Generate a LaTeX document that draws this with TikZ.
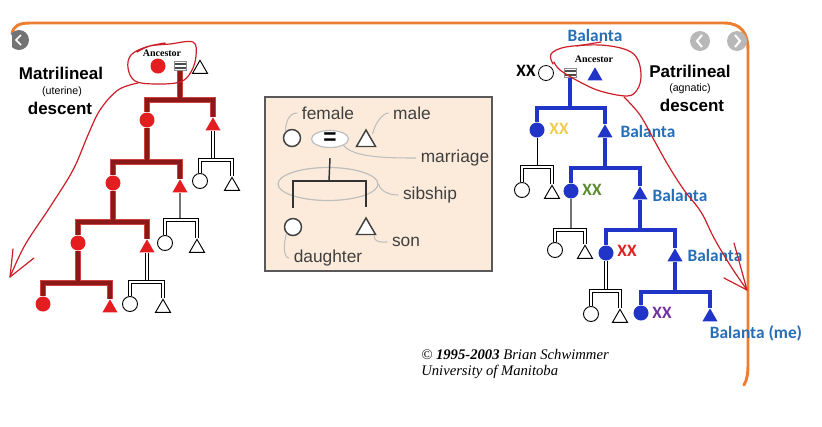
\documentclass[tikz,border=0pt]{standalone}
\usepackage{fontspec}
\setmainfont{Liberation Sans}
\newfontfamily\calibfont{Carlito}
\newfontfamily\timesfont{Liberation Serif}
\usetikzlibrary{shapes.geometric}

\definecolor{matred}{RGB}{228,30,32}
\definecolor{redcore}{RGB}{140,24,24}
\definecolor{redrim}{RGB}{205,65,65}
\definecolor{patblue}{RGB}{32,52,200}
\definecolor{balblue}{RGB}{38,110,182}
\definecolor{frameorange}{RGB}{237,125,49}
\definecolor{handred}{RGB}{205,30,40}
\definecolor{legfill}{RGB}{252,235,218}
\definecolor{leggrey}{RGB}{190,190,190}
\definecolor{xxyellow}{RGB}{240,205,80}
\definecolor{xxgreen}{RGB}{90,140,45}
\definecolor{xxred}{RGB}{225,30,30}
\definecolor{xxpurple}{RGB}{112,48,160}

\tikzset{
  fem/.style={circle, inner sep=0pt, minimum size=11.25pt},
  mal/.style={regular polygon, regular polygon sides=3, inner sep=0pt, minimum size=13pt},
  matf/.style={fem, fill=matred},
  matm/.style={mal, fill=matred},
  patf/.style={fem, fill=patblue},
  patm/.style={mal, fill=patblue},
  openf/.style={fem, draw=black, fill=white, line width=0.7pt},
  openm/.style={mal, draw=black, fill=white, line width=0.7pt},
  legf/.style={fem, draw=black!75, fill=white, line width=1.1pt, minimum size=12.75pt},
  legm/.style={mal, draw=black!75, fill=white, line width=1.1pt, minimum size=16.5pt},
  wed/.style={rectangle, draw=black!45, fill=white, line width=0.5pt, inner sep=0pt,
    minimum width=9pt, minimum height=7pt,
    path picture={\draw[black!70, line width=1.1pt]
      ([yshift=-2pt]path picture bounding box.north west) -- ([yshift=-2pt]path picture bounding box.north east)
      ([yshift=2pt]path picture bounding box.south west) -- ([yshift=2pt]path picture bounding box.south east);}},
  redkin/.style={draw=redcore, line width=2.5pt, preaction={draw=redrim, line width=3.8pt}},
  bluekin/.style={draw=patblue, line width=3pt},
  whitekin/.style={draw=black, line width=0.55pt, double=white, double distance=1.3pt},
  thinkin/.style={draw=black!55, line width=0.8pt},
  legline/.style={draw=black!80, line width=1.1pt},
  leader/.style={draw=leggrey, line width=0.8pt},
  hand/.style={draw=handred, line width=0.9pt, line cap=round, line join=round},
  big/.style={font=\bfseries\fontsize{12.75}{15}\selectfont},
  small/.style={font=\fontsize{8}{9}\selectfont},
  anc/.style={font=\timesfont\bfseries\fontsize{7.5}{8}\selectfont},
  balanta/.style={text=balblue, font=\calibfont\bfseries\fontsize{13}{15}\selectfont},
  xx/.style={font=\calibfont\bfseries\fontsize{13}{15}\selectfont},
  legtext/.style={text=black!75, font=\fontsize{13}{15}\selectfont},
}

\begin{document}
\begin{tikzpicture}[x=0.75pt,y=0.75pt,yscale=-1,xscale=1]
\useasboundingbox (0,0) rectangle (822,426);

%Shape: Frame
\draw[frameorange, line width=2.2pt, line cap=round] (12,34) .. controls (13,26) and (19,23) .. (30,23) -- (724,23) .. controls (741,23) and (748,33) .. (748,50) -- (748,364) .. controls (748,374) and (747,380) .. (744,385);

%Shape: Buttons
\begin{scope}
  \clip (12,20) rectangle (40,60);
  \fill[black!55] (19,40) circle (10);
  \draw[white, line width=1.3pt] (21,35) -- (16,40) -- (21,45);
\end{scope}
\fill[black!28] (700,41) circle (10);
\draw[white, line width=1.5pt] (702,35) -- (697,41) -- (702,47);
\fill[black!28] (737,41) circle (10);
\draw[white, line width=1.5pt] (735,35) -- (740,41) -- (735,47);

% Text Node
\node[big] (matT) at (61,73) {Matrilineal};
\node[small] (matU) at (62,92) {(uterine)};
\node[big] (matD) at (60,108) {descent};
\node[big] (patT) at (690,71) {Patrilineal};
\node[small] (patU) at (690,89) {(agnatic)};
\node[big] (patD) at (692,105) {descent};

%Matrilineal tree
\node[anc] (mAnc) at (162,53) {Ancestor};
\node[matf] (mA) at (158,66) {};
\node[wed] (mW) at (180,66) {};
\node[openm] (mH) at (200,69) {};
\coordinate (mb1) at (180,100);
\node[matf] (md1) at (147,120) {};
\node[matm] (ms1) at (213,126) {};
\coordinate (mb2) at (147,162);
\node[matf] (md2) at (113,183) {};
\node[matm] (ms2) at (180,188) {};
\coordinate (mb3) at (113,222);
\node[matf] (md3) at (78,243) {};
\node[matm] (ms3) at (147,248) {};
\coordinate (mb4) at (78,283);
\node[matf] (md4) at (43,304) {};
\node[matm] (ms4) at (110,308) {};
\draw[redkin] (mW) -- (mb1) (md1) -- (md1 |- mb1) -| (ms1)
  (md1) -- (mb2) (md2) -- (md2 |- mb2) -| (ms2)
  (md2) -- (mb3) (md3) -- (md3 |- mb3) -| (ms3)
  (md3) -- (mb4) (md4) -- (md4 |- mb4) -| (ms4);
%Matrilineal side branches
\coordinate (mk1) at (213,160);
\node[openf] (mc1) at (200,181) {};
\node[openm] (mt1) at (232,186) {};
\coordinate (mk2) at (180,220);
\node[openf] (mc2) at (165,243) {};
\node[openm] (mt2) at (197,248) {};
\coordinate (mk3) at (147,282);
\node[openf] (mc3) at (130,304) {};
\node[openm] (mt3) at (163,308) {};
\draw[whitekin] (ms1) -- (mk1);
\draw[thinkin] (ms2) -- (mk2);
\draw[whitekin] (ms3) -- (mk3);
\draw[whitekin] (mc1) -- (mc1 |- mk1) -| (mt1);
\draw[whitekin] (mc2) -- (mc2 |- mk2) -| (mt2);
\draw[whitekin] (mc3) -- (mc3 |- mk3) -| (mt3);

%Patrilineal tree
\node[balanta] (pBal) at (595,35) {Balanta};
\node[anc] (pAnc) at (594,59) {Ancestor};
\node[xx] (pX0) at (526,71) {XX};
\node[openf, line width=0.6pt] (pA) at (546,73) {};
\node[wed] (pW) at (570,73) {};
\node[patm] (pH) at (595,76) {};
\coordinate (pb1) at (570,108);
\node[patf] (pd1) at (537,130) {};
\node[patm] (ps1) at (605,133) {};
\coordinate (pb2) at (605,168);
\node[patf] (pd2) at (571,191) {};
\node[patm] (ps2) at (640,195) {};
\coordinate (pb3) at (640,230);
\node[patf] (pd3) at (606,253) {};
\node[patm] (ps3) at (675,257) {};
\coordinate (pb4) at (675,292);
\node[patf] (pd4) at (641,313) {};
\node[patm] (ps4) at (710,317) {};
\draw[bluekin] (pW) -- (pb1) (pd1) -- (pd1 |- pb1) -| (ps1)
  (ps1) -- (pb2) (pd2) -- (pd2 |- pb2) -| (ps2)
  (ps2) -- (pb3) (pd3) -- (pd3 |- pb3) -| (ps3)
  (ps3) -- (pb4) (pd4) -- (pd4 |- pb4) -| (ps4);
%Patrilineal side branches
\coordinate (pk1) at (537,167);
\node[openf] (pc1) at (522,190) {};
\node[openm] (pt1) at (552,194) {};
\coordinate (pk2) at (571,230);
\node[openf] (pc2) at (555,250) {};
\node[openm] (pt2) at (585,254) {};
\coordinate (pk3) at (606,291);
\node[openf] (pc3) at (591,314) {};
\node[openm] (pt3) at (620,318) {};
\draw[draw=black, line width=0.6pt] (pd1) -- (pk1);
\draw[thinkin] (pd2) -- (pk2);
\draw[whitekin] (pd3) -- (pk3);
\draw[whitekin] (pc1) -- (pc1 |- pk1) -| (pt1);
\draw[whitekin] (pc2) -- (pc2 |- pk2) -| (pt2);
\draw[whitekin] (pc3) -- (pc3 |- pk3) -| (pt3);
% Text Node
\node[xx, text=xxyellow] (pX1) at (559,129) {XX};
\node[balanta] (pB1) at (648,131) {Balanta};
\node[xx, text=xxgreen] (pX2) at (592,190) {XX};
\node[balanta] (pB2) at (680,195) {Balanta};
\node[xx, text=xxred] (pX3) at (627,251) {XX};
\node[balanta] (pB3) at (715,255) {Balanta};
\node[xx, text=xxpurple] (pX4) at (662,313) {XX};
\node[balanta] (pB4) at (756,333) {Balanta (me)};

%Shape: Legend box
\draw[draw=black!65, fill=legfill, line width=1.2pt] (265,97) rectangle (492,271);
\node[ellipse, draw=leggrey, line width=0.9pt, minimum width=75pt, minimum height=24.75pt, inner sep=0pt] (lE) at (328,184) {};
\node[legf] (lF) at (292,138) {};
\node[ellipse, draw=leggrey, fill=white, line width=0.9pt, minimum width=27.75pt, minimum height=12.75pt, inner sep=0pt, font=\bfseries\fontsize{17}{17}\selectfont] (lQ) at (330,139) {=};
\node[legm] (lM) at (366,141) {};
\coordinate (lk) at (329,181);
\node[legf] (lD) at (293,227) {};
\node[legm] (lS) at (366,229) {};
\draw[legline] ([yshift=7.5pt]lQ.south) -- (lk);
\draw[legline] ([yshift=-7.5pt]lD.north) |- (lk) -| ([yshift=-7.5pt]lS.north);
% Text Node
\node[legtext] (lfe) at (328,113) {female};
\node[legtext] (lma) at (412,113) {male};
\node[legtext] (lmr) at (455,158) {marriage};
\node[legtext] (lsi) at (430,195) {sibship};
\node[legtext] (lso) at (406,242) {son};
\node[legtext] (lda) at (328,258) {daughter};
%Curve Lines: leaders
\draw[leader] (lF.north west) .. controls +(0,-10) and +(-8,0) .. (lfe.west);
\draw[leader] ([xshift=5pt,yshift=4pt]lM.north) .. controls +(2,-10) and +(-6,0) .. (lma.west);
\draw[leader] (lQ.south east) .. controls +(10,12) and +(-30,0) .. (lmr.west);
\draw[leader] (lE.east) .. controls +(2,8) and +(-8,0) .. (lsi.west);
\draw[leader] ([xshift=-2pt]lS.corner 3) .. controls +(0,8) and +(-6,0) .. (lso.west);
\draw[leader] (lD.south west) .. controls +(-3,10) and +(-6,0) .. (lda.west);

% Text Node: caption
\node[anchor=west, inner sep=0pt, font=\timesfont\itshape\fontsize{11}{13}\selectfont] (capA) at (421,354) {© {\bfseries 1995-2003} Brian Schwimmer};
\node[anchor=west, inner sep=0pt, font=\timesfont\itshape\fontsize{11}{13}\selectfont] (capB) at (421,372) {University of Manitoba};

%Shape: Free Drawing (hand marks)
\draw[hand] plot[smooth, tension=0.6] coordinates {(137,52) (150,46) (170,44) (193,42) (196,56) (191,72) (180,82) (155,84) (135,81) (128,68) (131,55) (146,47) (165,43)};
\draw[hand] plot[smooth, tension=0.6] coordinates {(138,83) (118,90) (100,110) (88,135) (73,170) (50,207) (25,245) (10,277)};
\draw[hand] (13,249) -- (10,277) -- (34,258);
\draw[hand] plot[smooth, tension=0.6] coordinates {(553,64) (551,54) (566,47) (600,45) (627,50) (638,60) (641,77) (637,90) (627,96) (600,91) (578,81) (560,70) (554,62)};
\draw[hand] (577,46) -- (601,42);
\draw[hand] plot[smooth, tension=0.6] coordinates {(624,97) (640,115) (654,140) (668,165) (684,190) (701,212) (714,238) (730,265) (747,290)};
\draw[hand] (734,243) -- (747,290) -- (724,278);
\end{tikzpicture}
\end{document}
